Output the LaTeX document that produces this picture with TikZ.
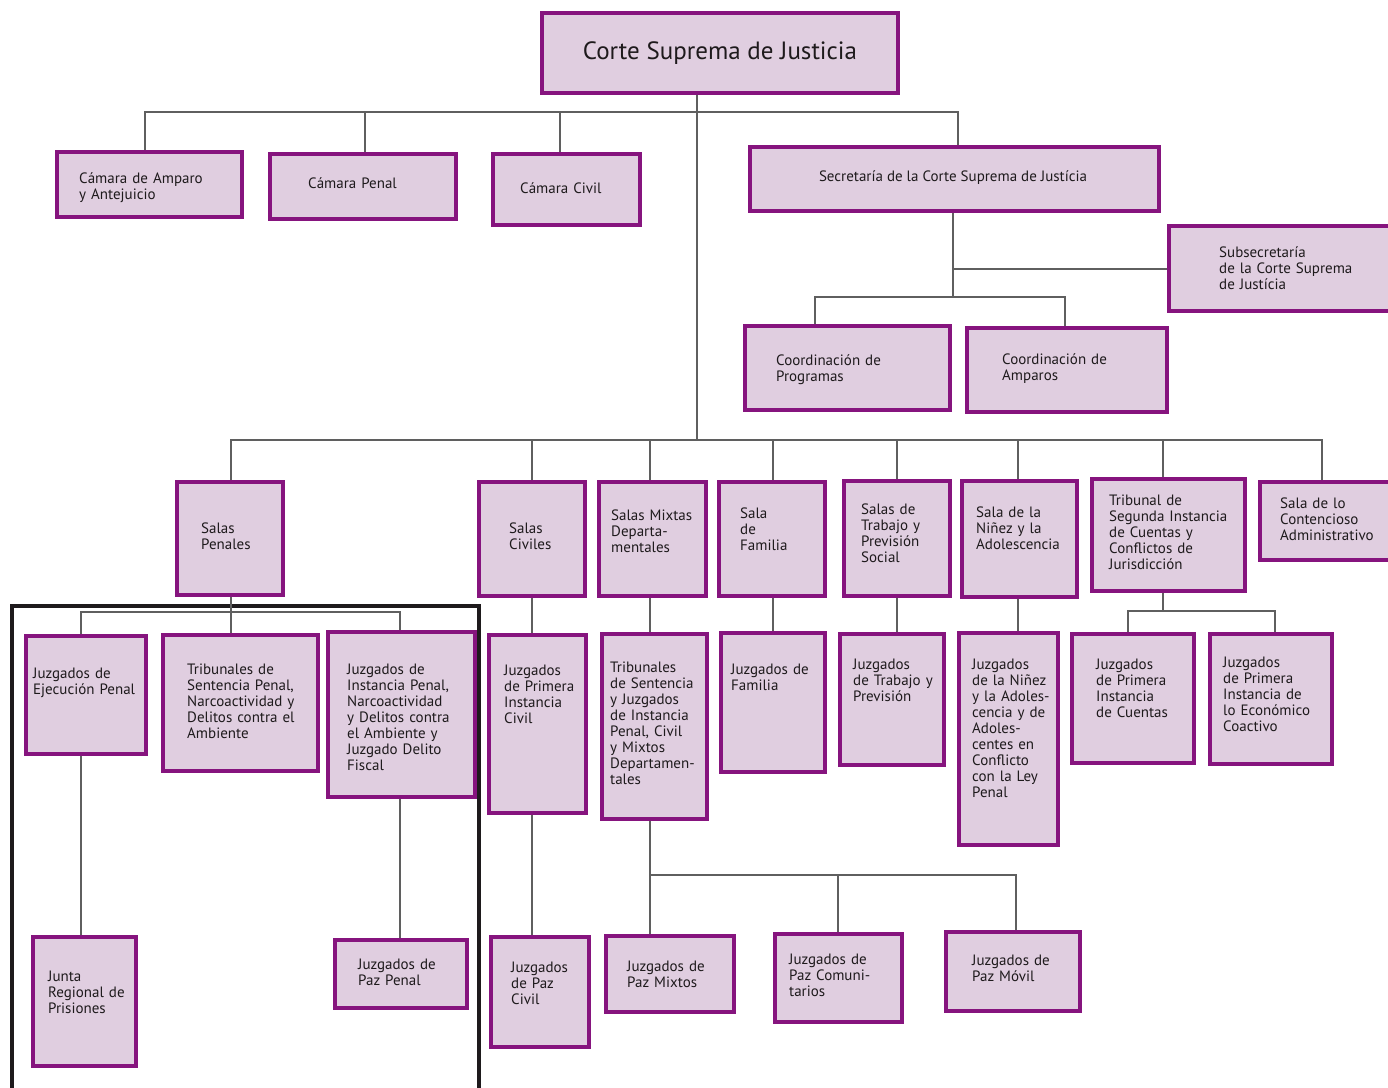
\documentclass[tikz,border=0pt]{standalone}
\usepackage{fontspec}
\setmainfont{PT Sans}
\usetikzlibrary{fit}
\definecolor{boxfill}{RGB}{224,206,224}
\definecolor{boxline}{RGB}{134,20,126}
\definecolor{wiregray}{RGB}{95,95,95}
\definecolor{inkdark}{RGB}{30,26,28}

\begin{document}
\begin{tikzpicture}[x=1pt,y=-1pt]
    \tikzstyle{org}=[draw=boxline, fill=boxfill, line width=3.2pt, inner sep=0pt]
    \tikzstyle{lbl}=[inner sep=0pt, anchor=base west, align=left, text=inkdark, text width=190pt, font=\fontsize{15}{16}\selectfont]
    \tikzstyle{wire}=[draw=wiregray, line width=1.2pt]
    \useasboundingbox (0,0) rectangle (1388,1087);
    % boxes, top to bottom
    \node [org, fit={(542,13) (898,93)}] (corte) {};
    \node [text=inkdark, font=\fontsize{25}{30}\selectfont] (corte-t) at (corte) {Corte Suprema de Justicia};
    \node [org, fit={(57,152) (242,217)}] (amparo) {};
    \node [lbl] (amparo-t) at (79,183) {Cámara de Amparo\\y Antejuicio};
    \node [org, fit={(270,154) (456,219)}] (penal) {};
    \node [lbl] (penal-t) at (308,188) {Cámara Penal};
    \node [org, fit={(493,154) (640,225)}] (civil) {};
    \node [lbl] (civil-t) at (520,193) {Cámara Civil};
    \node [org, fit={(750,147) (1159,211)}] (secre) {};
    \node [lbl, anchor=base, text width=] (secre-t) at (953,181) {Secretaría de la Corte Suprema de Justícia};
    \node [org, fit={(1169,226) (1396,311)}] (subsec) {};
    \node [lbl] (subsec-t) at (1219,257) {Subsecretaría\\de la Corte Suprema\\de Justícia};
    \node [org, fit={(745,326) (950,410)}] (coordprog) {};
    \node [lbl] (coordprog-t) at (776,365) {Coordinación de\\Programas};
    \node [org, fit={(967,328) (1167,412)}] (coordamp) {};
    \node [lbl] (coordamp-t) at (1002,364) {Coordinación de\\Amparos};
    \node [org, fit={(177,482) (283,595)}] (spenal) {};
    \node [lbl] (spenal-t) at (201,533) {Salas\\Penales};
    \node [org, fit={(479,482) (585,596)}] (scivil) {};
    \node [lbl] (scivil-t) at (509,533) {Salas\\Civiles};
    \node [org, fit={(599,482) (706,596)}] (smixta) {};
    \node [lbl] (smixta-t) at (611,520) {Salas Mixtas\\Departa-\\mentales};
    \node [org, fit={(719,482) (825,596)}] (sfamilia) {};
    \node [lbl] (sfamilia-t) at (740,518) {Sala\\de\\Familia};
    \node [org, fit={(844,481) (950,596)}] (strabajo) {};
    \node [lbl] (strabajo-t) at (861,514) {Salas de\\Trabajo y\\Previsión\\Social};
    \node [org, fit={(962,481) (1077,597)}] (sninez) {};
    \node [lbl] (sninez-t) at (976,517) {Sala de la\\Niñez y la\\Adolescencia};
    \node [org, fit={(1092,479) (1245,591)}] (tsegunda) {};
    \node [lbl] (tsegunda-t) at (1109,505) {Tribunal de\\Segunda Instancia\\de Cuentas y\\Conflictos de\\Jurisdicción};
    \node [org, fit={(1260,482) (1396,560)}] (contencioso) {};
    \node [lbl] (contencioso-t) at (1280,508) {Sala de lo\\Contencioso\\Administrativo};
    \node [org, fit={(26,636) (146,754)}] (jejec) {};
    \node [lbl] (jejec-t) at (33,678) {Juzgados de\\Ejecución Penal};
    \node [org, fit={(163,635) (318,771)}] (tsentpenal) {};
    \node [lbl] (tsentpenal-t) at (187,674) {Tribunales de\\Sentencia Penal,\\Narcoactividad y\\Delitos contra el\\Ambiente};
    \node [org, fit={(328,632) (475,797)}] (jinstpenal) {};
    \node [lbl] (jinstpenal-t) at (347,674) {Juzgados de\\Instancia Penal,\\Narcoactividad\\y Delitos contra\\el Ambiente y\\Juzgado Delito\\Fiscal};
    \node [org, fit={(33,937) (136,1066)}] (junta) {};
    \node [lbl] (junta-t) at (48,981) {Junta\\Regional de\\Prisiones};
    \node [org, fit={(335,940) (467,1008)}] (jpazpenal) {};
    \node [lbl] (jpazpenal-t) at (358,969) {Juzgados de\\Paz Penal};
    \node [org, fit={(489,635) (586,813)}] (jcivil) {};
    \node [lbl] (jcivil-t) at (504,675) {Juzgados\\de Primera\\Instancia\\Civil};
    \node [org, fit={(491,937) (589,1047)}] (jpazcivil) {};
    \node [lbl] (jpazcivil-t) at (511,972) {Juzgados\\de Paz\\Civil};
    \node [org, fit={(602,634) (707,819)}] (tmixtos) {};
    \node [lbl] (tmixtos-t) at (610,672) {Tribunales\\de Sentencia\\y Juzgados\\de Instancia\\Penal, Civil\\y Mixtos\\Departamen-\\tales};
    \node [org, fit={(606,936) (734,1012)}] (jpazmixtos) {};
    \node [lbl] (jpazmixtos-t) at (627,971) {Juzgados de\\Paz Mixtos};
    \node [org, fit={(775,934) (902,1022)}] (jpazcomun) {};
    \node [lbl] (jpazcomun-t) at (789,964) {Juzgados de\\Paz Comuni-\\tarios};
    \node [org, fit={(946,932) (1080,1011)}] (jpazmovil) {};
    \node [lbl] (jpazmovil-t) at (972,965) {Juzgados de\\Paz Móvil};
    \node [org, fit={(721,633) (825,772)}] (jfamilia) {};
    \node [lbl] (jfamilia-t) at (731,674) {Juzgados de\\Familia};
    \node [org, fit={(840,634) (944,765)}] (jtrabajo) {};
    \node [lbl] (jtrabajo-t) at (853,669) {Juzgados\\de Trabajo y\\Previsión};
    \node [org, fit={(959,633) (1058,845)}] (jninez) {};
    \node [lbl] (jninez-t) at (972,669) {Juzgados\\de la Niñez\\y la Adoles-\\cencia y de\\Adoles-\\centes en\\Conflicto\\con la Ley\\Penal};
    \node [org, fit={(1072,634) (1194,763)}] (jcuentas) {};
    \node [lbl] (jcuentas-t) at (1096,669) {Juzgados\\de Primera\\Instancia\\de Cuentas};
    \node [org, fit={(1210,634) (1332,764)}] (jcoactivo) {};
    \node [lbl] (jcoactivo-t) at (1223,667) {Juzgados\\de Primera\\Instancia de\\lo Económico\\Coactivo};
    % heavy frame round the penal branch
    \draw [draw=inkdark, line width=4pt] (12,606) rectangle (479,1100);
    % connectors from the court down
    \draw [wire] (corte.south -| 697,0) -- (697,112) -| (amparo.north -| 145,0);
    \draw [wire] (697,112) -| (penal.north -| 365,0);
    \draw [wire] (697,112) -| (civil.north -| 560,0);
    \draw [wire] (697,112) -| (secre.north -| 958,0);
    \draw [wire] (secre.south -| 953,0) -- (953,297) -| (coordprog.north -| 815,0);
    \draw [wire] (953,297) -| (coordamp.north -| 1065,0);
    \draw [wire] (953,269) -- (subsec.west |- 953,269);
    \draw [wire] (corte.south -| 697,0) -- (697,440) -| (spenal.north -| 231,0);
    \draw [wire] (697,440) -| (scivil.north -| 532,0);
    \draw [wire] (697,440) -| (smixta.north -| 650,0);
    \draw [wire] (697,440) -| (sfamilia.north -| 773,0);
    \draw [wire] (697,440) -| (strabajo.north -| 897,0);
    \draw [wire] (697,440) -| (sninez.north -| 1018,0);
    \draw [wire] (697,440) -| (tsegunda.north -| 1163,0);
    \draw [wire] (697,440) -| (contencioso.north -| 1322,0);
    % penal branch
    \draw [wire] (spenal.south -| 231,0) -- (231,612) -| (jejec.north -| 81,0);
    \draw [wire] (231,612) -- (tsentpenal.north -| 231,0);
    \draw [wire] (231,612) -| (jinstpenal.north -| 400,0);
    \draw [wire] (jejec.south -| 81,0) -- (junta.north -| 81,0);
    \draw [wire] (jinstpenal.south -| 400,0) -- (jpazpenal.north -| 400,0);
    % civil and mixed branches
    \draw [wire] (scivil.south -| 532,0) -- (jcivil.north -| 532,0);
    \draw [wire] (jcivil.south -| 532,0) -- (jpazcivil.north -| 532,0);
    \draw [wire] (smixta.south -| 650,0) -- (tmixtos.north -| 650,0);
    \draw [wire] (tmixtos.south -| 650,0) -- (jpazmixtos.north -| 650,0);
    \draw [wire] (650,875) -| (jpazcomun.north -| 838,0);
    \draw [wire] (650,875) -| (jpazmovil.north -| 1016,0);
    % remaining salas
    \draw [wire] (sfamilia.south -| 773,0) -- (jfamilia.north -| 773,0);
    \draw [wire] (strabajo.south -| 897,0) -- (jtrabajo.north -| 897,0);
    \draw [wire] (sninez.south -| 1018,0) -- (jninez.north -| 1018,0);
    \draw [wire] (tsegunda.south -| 1163,0) -- (1163,611) -| (jcuentas.north -| 1128,0);
    \draw [wire] (1163,611) -| (jcoactivo.north -| 1275,0);
\end{tikzpicture}
\end{document}
